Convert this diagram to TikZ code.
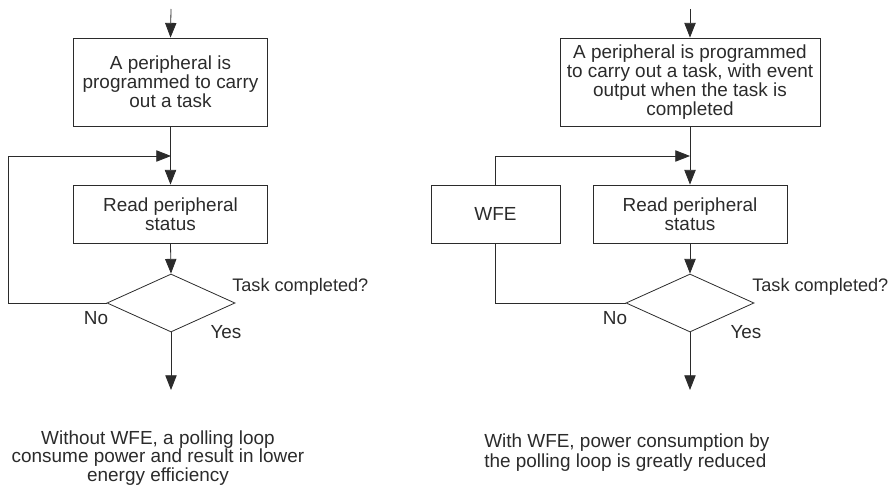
\documentclass[tikz,border=0pt]{standalone}
\usepackage{fontspec}
\setmainfont{Liberation Sans}
\usepackage{tikz}
\usetikzlibrary{arrows.meta,positioning,calc,shapes.geometric}
\usepackage{xcolor}
\definecolor{wfline}{HTML}{2B2B2B}
\tikzset{
  wfbox/.style={draw=wfline, rectangle, inner sep=2pt, align=center, line width=0.6pt,
    font=\fontsize{14.2}{14.3}\selectfont, text=wfline},
  wfdiamond/.style={draw=wfline, diamond, inner sep=0pt, line width=0.6pt,
    minimum width=96pt, minimum height=43.5pt},
  wfarrow/.style={-{Triangle[length=11pt, width=8.5pt]}, line width=0.6pt, draw=wfline},
  wfline/.style={line width=0.6pt, draw=wfline},
  wflabel/.style={font=\fontsize{14.2}{14}\selectfont, text=wfline, inner sep=0pt},
  wfquery/.style={wflabel, anchor=west, font=\fontsize{13.6}{14}\selectfont},
}
\begin{document}
\begin{tikzpicture}[x=0.75pt,y=-0.75pt]
  \useasboundingbox (0,0) rectangle (890,495);

  % left flow: polling without WFE
  \coordinate (in1) at (171,9);
  \node[wfbox, minimum width=146pt, minimum height=66pt] (p1) at (170.5,82)
    {A peripheral is\\programmed to carry\\out a task};
  \coordinate (m1) at (171,156);
  \node[wfbox, minimum width=146pt, minimum height=43.5pt] (read1) at (170.5,214)
    {Read peripheral\\status};
  \node[wfdiamond] (task1) at (171,303) {};
  \coordinate (c1) at (8,156);
  \coordinate (out1) at (171,390);

  \draw[wfarrow] (in1) -- (p1.north);
  \draw[wfarrow] (p1.south) -- (read1.north);
  \draw[wfarrow] (read1.south) -- (task1.north);
  \draw[wfarrow] (task1.south) -- (out1);
  \draw[wfarrow] (task1.west) -| (c1) -- (m1);

  \node[wfquery] (q1) at (232,287) {Task completed?};
  \node[wflabel] (no1) at (96,318) {No};
  \node[wflabel] (yes1) at (226,332) {Yes};

  \node[wflabel, align=center] (cap1) at (158,458)
    {Without WFE, a polling loop\\consume power and result in lower\\energy efficiency};

  % right flow: polling with WFE
  \coordinate (in2) at (690,9);
  \node[wfbox, minimum width=195pt, minimum height=66pt] (p2) at (690,82)
    {A peripheral is programmed\\to carry out a task, with event\\output when the task is\\completed};
  \coordinate (m2) at (690,156);
  \node[wfbox, minimum width=145.5pt, minimum height=43.5pt] (read2) at (690,214)
    {Read peripheral\\status};
  \node[wfbox, minimum width=96.75pt, minimum height=43.5pt] (wfe) at (495.5,214) {WFE};
  \node[wfdiamond] (task2) at (690,303) {};
  \coordinate (out2) at (690,390);

  \draw[wfarrow] (in2) -- (p2.north);
  \draw[wfarrow] (p2.south) -- (read2.north);
  \draw[wfarrow] (read2.south) -- (task2.north);
  \draw[wfarrow] (task2.south) -- (out2);
  \draw[wfline] (task2.west) -| (wfe.south);
  \draw[wfarrow] (wfe.north) |- (m2);

  \node[wfquery] (q2) at (752,287) {Task completed?};
  \node[wflabel] (no2) at (615,318) {No};
  \node[wflabel] (yes2) at (746,332) {Yes};

  \node[wflabel, align=left, anchor=west, font=\fontsize{14.2}{15}\selectfont] (cap2) at (484,453)
    {With WFE, power consumption by\\the polling loop is greatly reduced};
\end{tikzpicture}
\end{document}
